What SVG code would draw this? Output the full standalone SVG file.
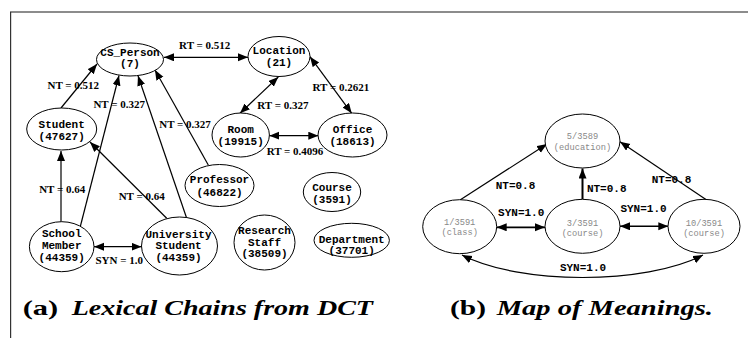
<svg xmlns="http://www.w3.org/2000/svg" width="748" height="338" viewBox="0 0 748 338">
<defs>
<marker id="ah" markerUnits="userSpaceOnUse" markerWidth="11" markerHeight="9" refX="10" refY="4" orient="auto-start-reverse" viewBox="0 0 11 9">
<path d="M0,0 L10,4 L0,8 z" fill="#000"/>
</marker>
<style>
.n ellipse{fill:#fff;stroke:#000;stroke-width:1}
.t{font-family:"Liberation Mono",monospace;font-weight:bold;font-size:11px;text-anchor:middle;fill:#000}
.g{font-family:"Liberation Mono",monospace;font-size:8.7px;text-anchor:middle;fill:#888}
.el{font-family:"Liberation Serif",serif;font-weight:bold;font-size:11px;text-anchor:middle;fill:#000}
.er{font-family:"Liberation Mono",monospace;font-weight:bold;font-size:11px;text-anchor:middle;fill:#000}
.cap{font-family:"Liberation Serif",serif;font-weight:bold;font-size:22px;fill:#000}
#edges line,#edges path{stroke:#000;stroke-width:1.2;fill:none}
.one{marker-end:url(#ah)}
.two{marker-start:url(#ah);marker-end:url(#ah)}
</style>
</defs>
<rect width="748" height="338" fill="#fff"/>
<line x1="10" y1="12" x2="748" y2="12" stroke="#666" stroke-width="1.6"/>
<line x1="10.6" y1="12" x2="10.6" y2="338" stroke="#333" stroke-width="1.2"/>

<g id="edges">
<line class="one" x1="61" y1="108" x2="97" y2="64"/>
<line class="one" x1="80.3" y1="226.5" x2="119" y2="75.5"/>
<line class="one" x1="186.7" y1="218.3" x2="138" y2="75.8"/>
<line class="one" x1="208.3" y1="165" x2="155" y2="70"/>
<line class="one" x1="166.7" y1="218.3" x2="90" y2="142"/>
<line class="one" x1="61" y1="221.7" x2="61" y2="151"/>
<line class="two" x1="164" y1="57.3" x2="248" y2="57.3"/>
<line class="two" x1="278.3" y1="77" x2="240" y2="113.3"/>
<line class="two" x1="310" y1="56.7" x2="351.7" y2="113.3"/>
<line class="two" x1="269.3" y1="135.7" x2="318.3" y2="135.7"/>
<line class="two" x1="94" y1="246.7" x2="141.5" y2="246.7"/>
<line class="one" x1="460" y1="200" x2="547" y2="144"/>
<line class="one" x1="582.5" y1="199.3" x2="582.5" y2="168.5" style="stroke-width:2"/>
<line class="one" x1="706.7" y1="200" x2="620" y2="141.7"/>
<line class="two" x1="496.7" y1="227.3" x2="545" y2="227.3" style="stroke-width:1.8"/>
<line class="two" x1="620" y1="226.3" x2="668.3" y2="226.3" style="stroke-width:1.5"/>
<path class="two" d="M462,255 C520,285 645,285 703,255"/>
<text class="el" x="73.3" y="89">NT = 0.512</text>
<text class="el" x="119.2" y="107.5">NT = 0.327</text>
<text class="el" x="185" y="127.5">NT = 0.327</text>
<text class="el" x="62.2" y="192.5">NT = 0.64</text>
<text class="el" x="141.7" y="200">NT = 0.64</text>
<text class="el" x="204.7" y="49">RT = 0.512</text>
<text class="el" x="282.8" y="108.5">RT = 0.327</text>
<text class="el" x="340.8" y="91">RT = 0.2621</text>
<text class="el" x="295" y="155">RT = 0.4096</text>
<text class="el" x="119.2" y="263.5">SYN = 1.0</text>
<text class="er" x="515.5" y="189">NT=0.8</text>
<text class="er" x="606.7" y="192">NT=0.8</text>
<text class="er" x="671.5" y="183">NT=0.8</text>
<text class="er" x="521.2" y="215.5">SYN=1.0</text>
<text class="er" x="643.5" y="212">SYN=1.0</text>
<text class="er" x="583" y="270.5">SYN=1.0</text>
</g>

<g id="cs_person" class="n"><ellipse cx="130" cy="59.5" rx="33.5" ry="16.5"/><text class="t" x="130" y="55.5">CS_Person</text><text class="t" x="130" y="66.5">(7)</text></g>
<g id="location" class="n"><ellipse cx="279" cy="56.5" rx="31" ry="20"/><text class="t" x="279" y="54">Location</text><text class="t" x="279" y="66">(21)</text></g>
<g id="student" class="n"><ellipse cx="61.7" cy="129" rx="35" ry="21"/><text class="t" x="61.7" y="128">Student</text><text class="t" x="61.7" y="140">(47627)</text></g>
<g id="room" class="n"><ellipse cx="240.7" cy="135" rx="28.7" ry="22"/><text class="t" x="240.7" y="133">Room</text><text class="t" x="240.7" y="144.5">(19915)</text></g>
<g id="office" class="n"><ellipse cx="352.5" cy="135" rx="34.5" ry="22"/><text class="t" x="352.5" y="133">Office</text><text class="t" x="352.5" y="144.5">(18613)</text></g>
<g id="professor" class="n"><ellipse cx="219.5" cy="185.5" rx="34.5" ry="21"/><text class="t" x="219.5" y="183">Professor</text><text class="t" x="219.5" y="195.5">(46822)</text></g>
<g id="course" class="n"><ellipse cx="332" cy="192" rx="28.7" ry="19.5"/><text class="t" x="332" y="191">Course</text><text class="t" x="332" y="203">(3591)</text></g>
<g id="school_member" class="n"><ellipse cx="61.7" cy="246.7" rx="32.3" ry="25"/><text class="t" x="61.7" y="236.5">School</text><text class="t" x="61.7" y="248.8">Member</text><text class="t" x="61.7" y="261">(44359)</text></g>
<g id="university_student" class="n"><ellipse cx="179.5" cy="246" rx="38" ry="29"/><text class="t" x="178.5" y="237.8">University</text><text class="t" x="178.5" y="249">Student</text><text class="t" x="178.5" y="261">(44359)</text></g>
<g id="research_staff" class="n"><ellipse cx="264.5" cy="242.5" rx="30.5" ry="27.5"/><text class="t" x="264.5" y="233.8">Research</text><text class="t" x="264.5" y="245.5">Staff</text><text class="t" x="264.5" y="257">(38509)</text></g>
<g id="department" class="n"><ellipse cx="351.7" cy="240.3" rx="37.7" ry="17"/><text class="t" x="351.7" y="242.8">Department</text><text class="t" x="351.7" y="253.8">(37701)</text></g>

<g id="m_education" class="n"><ellipse cx="582.5" cy="141" rx="37.5" ry="27"/><text class="g" x="582.5" y="139">5/3589</text><text class="g" x="582.5" y="150">(education)</text></g>
<g id="m_class" class="n"><ellipse cx="459.7" cy="226.7" rx="37" ry="27"/><text class="g" x="459.7" y="225">1/3591</text><text class="g" x="459.7" y="235">(class)</text></g>
<g id="m_course3" class="n"><ellipse cx="582.5" cy="226.3" rx="37.5" ry="27"/><text class="g" x="582.5" y="226">3/3591</text><text class="g" x="582.5" y="236">(course)</text></g>
<g id="m_course10" class="n"><ellipse cx="704" cy="226.3" rx="36" ry="27"/><text class="g" x="704" y="226">10/3591</text><text class="g" x="704" y="236">(course)</text></g>

<text class="cap" x="22.7" y="315" textLength="35.6" lengthAdjust="spacingAndGlyphs">(a)</text>
<text class="cap" x="71.7" y="315" font-style="italic" textLength="301.3" lengthAdjust="spacingAndGlyphs">Lexical Chains from DCT</text>
<text class="cap" x="450" y="315" textLength="36" lengthAdjust="spacingAndGlyphs">(b)</text>
<text class="cap" x="496.7" y="315" font-style="italic" textLength="216.3" lengthAdjust="spacingAndGlyphs">Map of Meanings.</text>
</svg>
